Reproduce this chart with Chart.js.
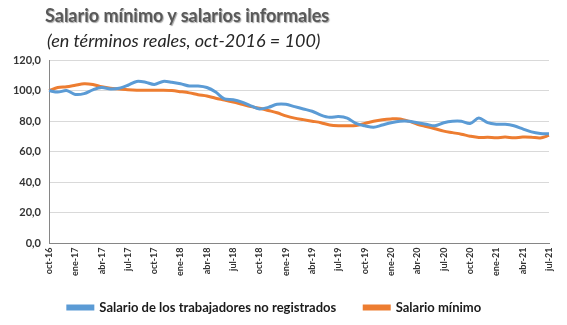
<!DOCTYPE html>
<html>
<head>
<meta charset="utf-8">
<script src="https://cdn.jsdelivr.net/npm/chart.js@4"></script>
<style>
  body { margin: 0; background: #fff; }
  #wrap { position: relative; width: 567px; height: 325px; }
  #title {
    position: absolute; left: 45px; top: 4px;
    font: bold 18px Lato, sans-serif; color: #595959;
    text-shadow: 1px 1px 1px #a6a6a6;
  }
  #subtitle {
    position: absolute; left: 47px; top: 29px;
    font: italic 18px Lato, sans-serif; color: #262626;
  }
</style>
</head>
<body>
<div id="wrap">
  <canvas id="chart" width="567" height="325"></canvas>
  <div id="title">Salario mínimo y salarios informales</div>
  <div id="subtitle">(en términos reales, oct-2016 = 100)</div>
</div>
<script>
const months = [
  "oct-16", "nov-16", "dic-16",
  "ene-17", "feb-17", "mar-17", "abr-17", "may-17", "jun-17", "jul-17", "ago-17", "sep-17", "oct-17", "nov-17", "dic-17",
  "ene-18", "feb-18", "mar-18", "abr-18", "may-18", "jun-18", "jul-18", "ago-18", "sep-18", "oct-18", "nov-18", "dic-18",
  "ene-19", "feb-19", "mar-19", "abr-19", "may-19", "jun-19", "jul-19", "ago-19", "sep-19", "oct-19", "nov-19", "dic-19",
  "ene-20", "feb-20", "mar-20", "abr-20", "may-20", "jun-20", "jul-20", "ago-20", "sep-20", "oct-20", "nov-20", "dic-20",
  "ene-21", "feb-21", "mar-21", "abr-21", "may-21", "jun-21", "jul-21",
];

const informales = [
  100, 99, 100, 97.5, 98, 100.5, 102, 101, 101.5, 103.5,
  106, 105.5, 104, 106, 105.5, 104.5, 103, 103, 102, 99,
  94.5, 94, 92.5, 90, 88, 89, 91, 91, 89.5, 88,
  86.5, 84, 82.5, 83, 82, 78.5, 77, 76, 77.5, 79,
  80, 80, 79, 78, 77, 79, 80, 80, 78.5, 82,
  79, 78, 78, 77, 75, 73, 72, 71.8,
];

const minimo = [
  100, 102, 102.5, 103.5, 104.5, 104, 102.5, 101.5, 101, 100.5,
  100.2, 100.2, 100.2, 100.2, 100, 99.3, 98.5, 97.3, 96.5, 95,
  93.8, 92.5, 91, 89.5, 88.5, 87, 85.5, 83.5, 82, 81,
  80, 79, 77.5, 77, 77, 77.2, 78.5, 80, 81, 81.5,
  81.5, 80, 78, 76.5, 75, 73.5, 72.5, 71.5, 70.2, 69.3,
  69.5, 69.2, 69.6, 69.1, 69.6, 69.5, 69, 70.7,
];

const seriesNames = ["Salario de los trabajadores no registrados", "Salario mínimo"];

// the legend sits closer to the axis labels than Chart.js would put it
const legendNudge = {
  id: "legendNudge",
  afterInit(chart) {
    const legend = chart.legend;
    const fit = legend.fit;
    legend.fit = function () {
      fit.call(this);
      this.height -= 7;
    };
  },
  afterLayout(chart) {
    chart.legend.top -= 7;
    chart.legend.bottom -= 7;
  },
};

new Chart(document.getElementById("chart"), {
  type: "line",
  data: {
    labels: months,
    datasets: [
      {
        label: seriesNames[0],
        data: informales,
        borderColor: "#5b9bd5",
        backgroundColor: "#5b9bd5",
        borderWidth: 3,
        pointRadius: 0,
        tension: 0.3,
      },
      {
        label: seriesNames[1],
        data: minimo,
        borderColor: "#ed7d31",
        backgroundColor: "#ed7d31",
        borderWidth: 3,
        pointRadius: 0,
        tension: 0.3,
      },
    ],
  },
  options: {
    responsive: false,
    animation: false,
    layout: {
      padding: { top: 60, right: 18, left: 0, bottom: 1 },
    },
    plugins: {
      tooltip: { enabled: false },
      legend: {
        position: "bottom",
        labels: {
          boxWidth: 25,
          boxHeight: 3,
          padding: 28,
          color: "#1a1a1a",
          font: { family: "Lato, sans-serif", size: 13, weight: "bold" },
        },
      },
    },
    scales: {
      x: {
        offset: false,
        grid: { display: false, drawTicks: false },
        border: { color: "#868686" },
        ticks: {
          autoSkip: false,
          minRotation: 90,
          maxRotation: 90,
          padding: 4,
          color: "#333333",
          font: { family: "Lato, sans-serif", size: 9, weight: "bold" },
          callback: function (value, index) {
            return index % 3 === 0 ? months[index] : null;
          },
        },
      },
      y: {
        min: 0,
        max: 120,
        afterFit: function (scale) {
          scale.width = 49;
        },
        grid: { color: "#d9d9d9", drawTicks: false },
        border: { color: "#868686" },
        ticks: {
          stepSize: 20,
          padding: 8,
          color: "#333333",
          font: { family: "Lato, sans-serif", size: 11, weight: "bold" },
          callback: function (value) {
            return value.toFixed(1).replace(".", ",");
          },
        },
      },
    },
  },
  plugins: [legendNudge],
});
</script>
</body>
</html>
